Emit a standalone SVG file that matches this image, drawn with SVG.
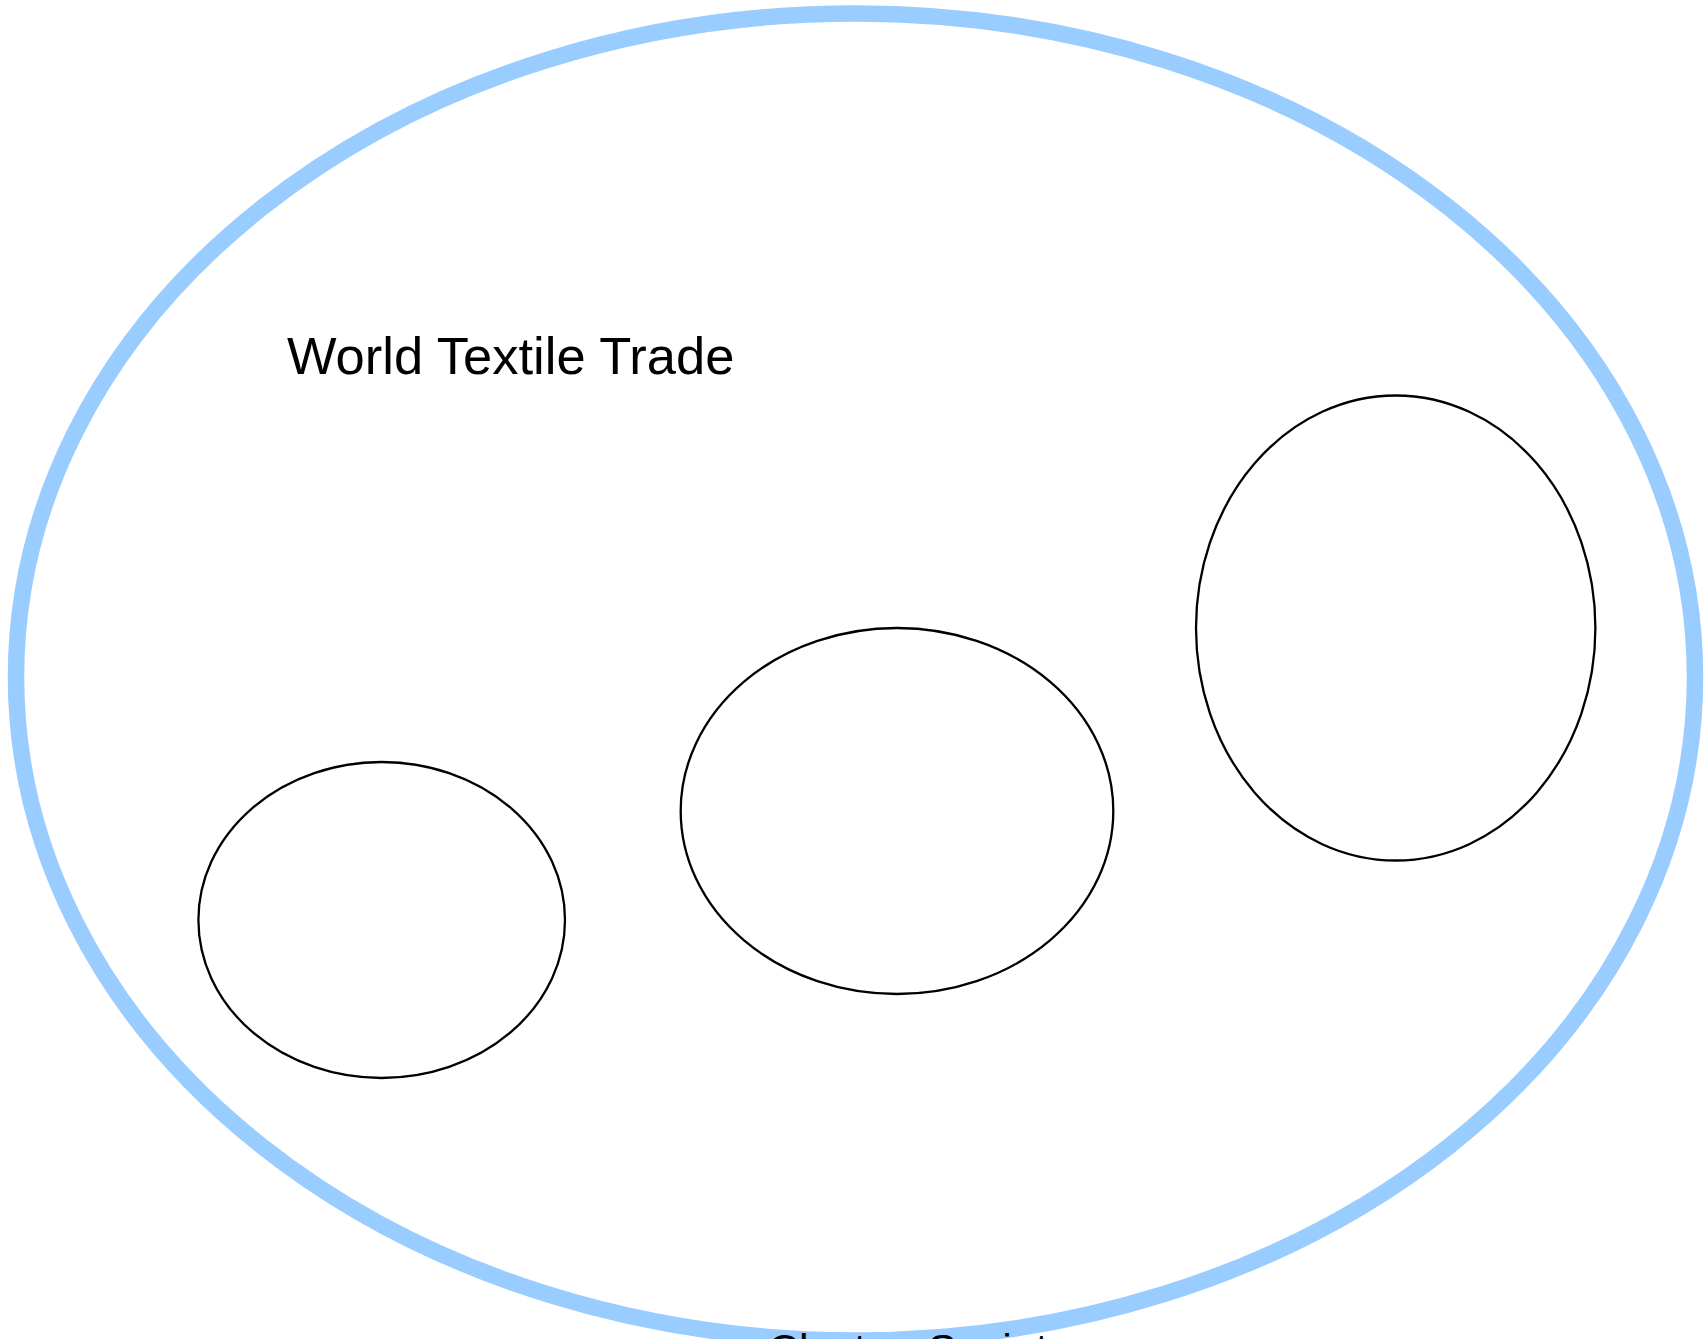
<svg xmlns="http://www.w3.org/2000/svg" width="1706" height="1339" viewBox="0 0 1706 1339">
<style>
.lbl{font-family:"Liberation Sans",Arial,Helvetica,sans-serif;fill:#000}
.node{fill:none;stroke:#000;stroke-width:2.3}
</style>
<rect width="1706" height="1339" fill="#fff"/>
<g id="cluster-society">
<ellipse cx="855.5" cy="677" rx="839.5" ry="663.5" fill="none" stroke="#99CCFF" stroke-width="16.5"/>
<text class="lbl" x="768" y="1364" font-size="43">Cluster: Society</text>
</g>
<g id="title">
<text class="lbl" x="287" y="374" font-size="52.5">World Textile Trade</text>
</g>
<g id="node-1"><ellipse class="node" cx="381.7" cy="920" rx="183.3" ry="158"/></g>
<g id="node-2"><ellipse class="node" cx="897" cy="811" rx="216.3" ry="183"/></g>
<g id="node-3"><ellipse class="node" cx="1395.7" cy="628" rx="199.7" ry="232.5"/></g>
<g id="connectors"></g>
</svg>
